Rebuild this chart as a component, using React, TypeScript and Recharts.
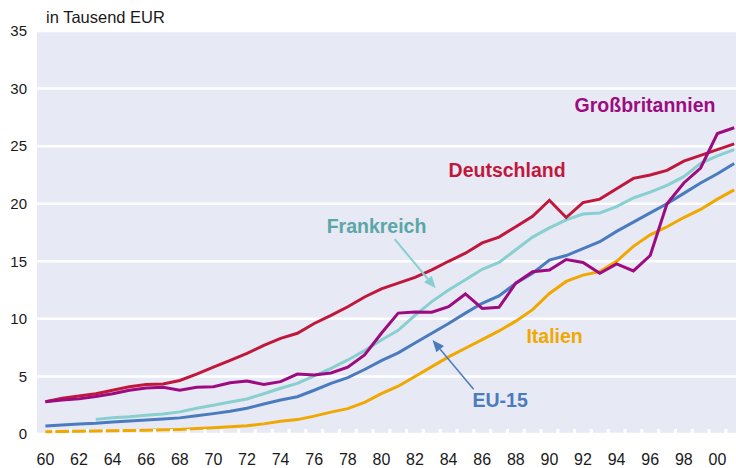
import React from "react";
import { LineChart, Line, XAxis, YAxis, CartesianGrid, ReferenceLine, ReferenceDot } from "recharts";

const YEARS = [
  1960, 1961, 1962, 1963, 1964, 1965, 1966, 1967, 1968, 1969,
  1970, 1971, 1972, 1973, 1974, 1975, 1976, 1977, 1978, 1979,
  1980, 1981, 1982, 1983, 1984, 1985, 1986, 1987, 1988, 1989,
  1990, 1991, 1992, 1993, 1994, 1995, 1996, 1997, 1998, 1999,
  2000, 2001,
];

const DEUTSCHLAND = [
  2.8, 3.1, 3.3, 3.5, 3.8, 4.1, 4.3, 4.35, 4.65, 5.2,
  5.8, 6.4, 7.0, 7.7, 8.3, 8.75, 9.6, 10.3, 11.05, 11.9,
  12.6, 13.1, 13.6, 14.25, 15.0, 15.7, 16.6, 17.1, 18.0, 18.9,
  20.3, 18.8, 20.1, 20.4, 21.3, 22.2, 22.5, 22.9, 23.7, 24.2,
  24.7, 25.2,
];

const GROSSBRITANNIEN = [
  2.8, 2.95, 3.05, 3.25, 3.5, 3.8, 4.0, 4.05, 3.8, 4.05,
  4.1, 4.45, 4.6, 4.3, 4.55, 5.2, 5.13, 5.3, 5.8, 6.86,
  8.75, 10.5, 10.6, 10.57, 11.06, 12.16, 10.9, 11.0, 13.1, 14.1,
  14.25, 15.15, 14.9, 13.96, 14.77, 14.16, 15.5, 20.0, 21.8, 23.1,
  26.1, 26.6,
];

const FRANKREICH = [
  null, null, null, 1.27, 1.42, 1.5, 1.62, 1.74, 1.92, 2.23,
  2.5, 2.78, 3.04, 3.5, 3.97, 4.4, 5.04, 5.7, 6.43, 7.24,
  8.17, 9.0, 10.3, 11.5, 12.5, 13.4, 14.3, 14.9, 16.0, 17.1,
  17.9, 18.6, 19.1, 19.2, 19.75, 20.5, 21.0, 21.6, 22.35, 23.5,
  24.15, 24.7,
];

const EU15 = [
  0.7, 0.78, 0.87, 0.93, 1.04, 1.13, 1.22, 1.3, 1.4, 1.58,
  1.77, 1.97, 2.23, 2.6, 2.95, 3.24, 3.8, 4.4, 4.9, 5.6,
  6.37, 7.05, 7.9, 8.75, 9.6, 10.5, 11.35, 12.0, 13.1, 13.96,
  15.1, 15.5, 16.1, 16.7, 17.6, 18.4, 19.2, 20.0, 20.9, 21.8,
  22.6, 23.5,
];

const ITALIEN = [
  0.2, 0.22, 0.24, 0.26, 0.28, 0.3, 0.33, 0.36, 0.4, 0.47,
  0.55, 0.62, 0.72, 0.88, 1.1, 1.25, 1.55, 1.9, 2.2, 2.75,
  3.5, 4.15, 5.0, 5.85, 6.7, 7.45, 8.2, 8.95, 9.8, 10.8,
  12.2, 13.25, 13.8, 14.1, 15.0, 16.3, 17.3, 18.0, 18.8, 19.5,
  20.4, 21.2,
];

const X_LABELS = [1960, 1962, 1964, 1966, 1968, 1970, 1972, 1974, 1976, 1978, 1980,
  1982, 1984, 1986, 1988, 1990, 1992, 1994, 1996, 1998, 2000];
const Y_TICKS = [0, 5, 10, 15, 20, 25, 30, 35];

const COLORS = {
  de: "#c0183c",
  gb: "#9c0c80",
  fr: "#88cfcf",
  frText: "#5ba7a7",
  eu: "#4a7bbf",
  it: "#f0a800",
};

const FONT = '"Liberation Sans", Arial, sans-serif';

const data = YEARS.map((year, i) => ({
  year,
  de: DEUTSCHLAND[i],
  gb: GROSSBRITANNIEN[i],
  fr: FRANKREICH[i],
  eu: EU15[i],
  it: ITALIEN[i],
}));

// labels at even years + little white marks on the year boundaries
const MINOR_TICKS = YEARS.slice(0, -1).map((y) => y + 0.5);
const X_TICKS = [...X_LABELS, ...MINOR_TICKS].sort((a, b) => a - b);
const TICK_MARGIN = 20;

const XTick = (props: any) => {
  const { x, y, payload } = props;
  const v = payload.value;
  if (v % 1 !== 0) {
    const base = y - TICK_MARGIN;
    return <rect x={x - 1.5} y={base - 5} width={3} height={5} fill="#ffffff" />;
  }
  return (
    <text x={x} y={y} dy="0.71em" textAnchor="middle" fontSize={16} fill="#1a1a1a" fontFamily={FONT}>
      {String(v % 100).padStart(2, "0")}
    </text>
  );
};

const Arrow = (color: string, width: number) => (props: any) => {
  const { x1, y1, x2, y2 } = props;
  const ang = Math.atan2(y2 - y1, x2 - x1);
  const len = 12;
  const half = 5;
  const bx = x2 - len * Math.cos(ang);
  const by = y2 - len * Math.sin(ang);
  const px = -Math.sin(ang) * half;
  const py = Math.cos(ang) * half;
  return (
    <g>
      <line x1={x1} y1={y1} x2={bx} y2={by} stroke={color} strokeWidth={width} />
      <polygon points={`${x2},${y2} ${bx + px},${by + py} ${bx - px},${by - py}`} fill={color} />
    </g>
  );
};

const Label = (text: string, color: string) => (props: any) => (
  <text x={props.cx} y={props.cy} fill={color} fontSize={19.5} fontWeight="bold" fontFamily={FONT}>
    {text}
  </text>
);

export default function App() {
  return (
    <div style={{ position: "absolute", left: 0, top: 0, width: 736, height: 468, overflow: "hidden", background: "#fff" }}>
      <div style={{ position: "absolute", left: 46, top: 9, fontSize: 16.5, lineHeight: "16px", fontFamily: FONT, color: "#1a1a1a" }}>
        in Tausend EUR
      </div>
      <LineChart width={760} height={468} data={data} margin={{ top: 31, right: 17.4, bottom: 0, left: 7 }}>
        <CartesianGrid fill="#e7e9f5" stroke="#ffffff" strokeWidth={2.5} vertical={false} />
        <XAxis
          dataKey="year"
          type="number"
          domain={[1959.5, 2001.5]}
          ticks={X_TICKS}
          tick={XTick}
          tickLine={false}
          axisLine={false}
          tickSize={0}
          tickMargin={TICK_MARGIN}
          height={34}
          interval={0}
          allowDataOverflow
        />
        <YAxis
          domain={[0, 35]}
          ticks={Y_TICKS}
          tickLine={false}
          axisLine={false}
          tickSize={0}
          tickMargin={10}
          width={30}
          tick={{ fontSize: 15, fill: "#1a1a1a", fontFamily: FONT }}
        />
        <Line dataKey="eu" stroke={COLORS.eu} strokeWidth={3} dot={false} isAnimationActive={false} />
        <Line dataKey="it" stroke={COLORS.it} strokeWidth={3} dot={false} isAnimationActive={false} />
        <Line dataKey="fr" stroke={COLORS.fr} strokeWidth={3} dot={false} isAnimationActive={false} />
        <Line dataKey="de" stroke={COLORS.de} strokeWidth={3} dot={false} isAnimationActive={false} />
        <Line dataKey="gb" stroke={COLORS.gb} strokeWidth={3} dot={false} isAnimationActive={false} />

        <ReferenceLine segment={[{ x: 1980.79, y: 16.92 }, { x: 1983.23, y: 12.66 }]} shape={Arrow(COLORS.fr, 2)} />
        <ReferenceLine segment={[{ x: 1985.49, y: 3.88 }, { x: 1983.04, y: 8.17 }]} shape={Arrow(COLORS.eu, 1.5)} />

        <ReferenceDot x={1991.5} y={27.98} r={0} shape={Label("Großbritannien", COLORS.gb)} />
        <ReferenceDot x={1984.0} y={22.3} r={0} shape={Label("Deutschland", COLORS.de)} />
        <ReferenceDot x={1976.74} y={17.46} r={0} shape={Label("Frankreich", COLORS.frText)} />
        <ReferenceDot x={1988.63} y={7.88} r={0} shape={Label("Italien", COLORS.it)} />
        <ReferenceDot x={1985.42} y={2.32} r={0} shape={Label("EU-15", COLORS.eu)} />
      </LineChart>
    </div>
  );
}
